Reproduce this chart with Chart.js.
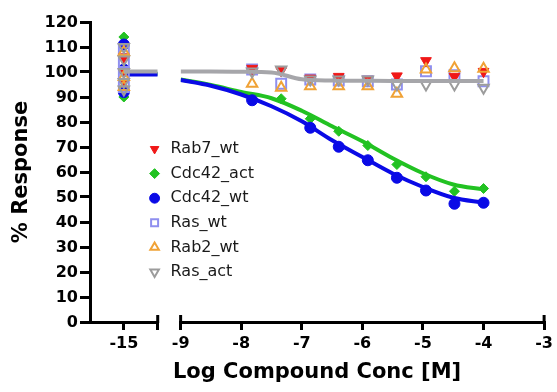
<!DOCTYPE html>
<html>
<head>
<meta charset="utf-8">
<title>Dose response</title>
<script src="https://cdn.jsdelivr.net/npm/chart.js@4.4.1/dist/chart.umd.min.js"></script>
<style>
  html, body { margin: 0; padding: 0; background: #fff; }
  #wrap { width: 557px; height: 392px; }
</style>
</head>
<body>
<div id="wrap"><canvas id="chart"></canvas></div>
<script>
/* global Chart */
"use strict";

// Series and concentrations (log M)
const seriesNames = ["Rab7_wt", "Cdc42_act", "Cdc42_wt", "Ras_wt", "Rab2_wt", "Ras_act"];
const logConc = [-7.82, -7.34, -6.86, -6.39, -5.91, -5.43, -4.95, -4.48, -4.0];
const ctrlConc = -15;
const xTicksLeft = [-15];
const xTicksRight = [-9, -8, -7, -6, -5, -4, -3];
const yTicks = [0, 10, 20, 30, 40, 50, 60, 70, 80, 90, 100, 110, 120];

// % response at each concentration (null = no point seen)
const rab7Wt = [101.4, 100.5, 97.5, 98.2, 97.0, 98.4, 104.5, 98.2, 100.2];
const cdc42Act = [89.0, 89.3, 81.3, 76.3, 70.6, 63.0, 58.1, 52.3, 53.4];
const cdc42Wt = [88.7, null, 77.7, 70.1, 64.7, 57.7, 52.6, 47.3, 47.7];
const rasWt = [101.0, 95.3, 97.0, 96.6, 96.3, 95.0, 100.3, 98.7, 96.3];
const rab2Wt = [95.3, 93.7, 94.3, 94.3, 94.3, 91.3, 101.0, 101.5, 101.3];
const rasAct = [100.2, 101.0, 97.0, 97.0, 97.0, 95.0, 95.0, 95.0, 93.7];

// replicate controls plotted at -15
const rab7WtCtrl = [106, 100, 96];
const cdc42ActCtrl = [114, 100, 90];
const cdc42WtCtrl = [111, 101, 92];
const rasWtCtrl = [109, 104, 99, 94];
const rab2WtCtrl = [108, 98, 94];
const rasActCtrl = [110, 105, 100, 96, 93];

// fitted curves as drawn in the picture
const fitConc = [-9, -8.5, -8, -7.5, -7, -6.5, -6, -5.5, -5, -4.5, -4];
const cdc42ActFit = [97.0, 94.8, 92.0, 89.5, 84.5, 78.3, 72.3, 65.5, 59.5, 55.0, 53.0];
const cdc42WtFit = [96.8, 94.5, 91.0, 86.3, 80.3, 72.7, 66.0, 59.4, 54.0, 49.7, 47.7];
const rasActFit = [100.2, 100.2, 100.1, 99.8, 97.1, 96.6, 96.5, 96.4, 96.4, 96.4, 96.4];
const ctrlFitConc = [-15, -14];
const cdc42ActTop = [99.3, 99.3];
const cdc42WtTop = [99.0, 99.0];
const rasActTop = [100.2, 100.2];

// marker looks, one per series
const looks = {
  Rab7_wt: {color: "#f01818", style: "triangle", rot: 180, r: 6.2, fill: true},
  Cdc42_act: {color: "#22c222", style: "rectRot", rot: 0, r: 5, fill: true},
  Cdc42_wt: {color: "#0a0ae6", style: "circle", rot: 0, r: 5.5, fill: true},
  Ras_wt: {color: "#8f8fef", style: "rect", rot: 0, r: 7, fill: false},
  Rab2_wt: {color: "#f0a236", style: "triangle", rot: 0, r: 6, fill: false},
  Ras_act: {color: "#9c9c9c", style: "triangle", rot: 180, r: 6, fill: false},
};
const lineColors = {Cdc42_act: "#22c222", Cdc42_wt: "#0a0ae6", Ras_act: "#a6a6aa"};

// drawing order, lower is on top
const layer = {
  Ras_act: 2, Rab2_wt: 3, Rab7_wt: 4, Ras_wt: 5, Cdc42_wt: 7, Cdc42_act: 9,
};

const FONT = "DejaVu Sans";
const bold16 = {family: FONT, size: 16, weight: "bold"};
const bold21 = {family: FONT, size: 21, weight: "bold"};

/**
 * Scatter-only dataset for one series.
 * @param {string} name
 * @param {number[]|number} xs
 * @param {Array<number|null>} ys
 * @param {string} xAxisID
 * @param {string} label
 * @return {Object}
 */
function pointSet(name, xs, ys, xAxisID, label) {
  const lk = looks[name];
  return {
    label: label,
    xAxisID: xAxisID,
    yAxisID: "y",
    order: layer[name],
    showLine: false,
    data: ys.map((y, i) => ({x: Array.isArray(xs) ? xs[i] : xs, y: y})),
    pointStyle: lk.style,
    pointRotation: lk.rot,
    pointRadius: lk.r,
    pointHoverRadius: lk.r,
    pointBackgroundColor: lk.fill ? lk.color : "rgba(255,255,255,0)",
    pointBorderColor: lk.color,
    pointBorderWidth: lk.fill ? 1 : 2,
    borderColor: lk.color,
    backgroundColor: lk.fill ? lk.color : "rgba(255,255,255,0)",
  };
}

/**
 * Line-only dataset for a fitted curve.
 * @return {Object}
 */
function fitSet(name, xs, ys, xAxisID) {
  return {
    label: "",
    xAxisID: xAxisID,
    yAxisID: "y",
    order: layer[name] - 1,
    data: xs.map((x, i) => ({x: x, y: ys[i]})),
    borderColor: lineColors[name],
    borderWidth: 4,
    pointRadius: 0,
    fill: false,
    cubicInterpolationMode: "monotone",
  };
}

const datasets = [
  pointSet("Rab7_wt", logConc, rab7Wt, "x", "Rab7_wt"),
  pointSet("Cdc42_act", logConc, cdc42Act, "x", "Cdc42_act"),
  pointSet("Cdc42_wt", logConc, cdc42Wt, "x", "Cdc42_wt"),
  pointSet("Ras_wt", logConc, rasWt, "x", "Ras_wt"),
  pointSet("Rab2_wt", logConc, rab2Wt, "x", "Rab2_wt"),
  pointSet("Ras_act", logConc, rasAct, "x", "Ras_act"),
  pointSet("Rab7_wt", ctrlConc, rab7WtCtrl, "xl", ""),
  pointSet("Cdc42_act", ctrlConc, cdc42ActCtrl, "xl", ""),
  pointSet("Cdc42_wt", ctrlConc, cdc42WtCtrl, "xl", ""),
  pointSet("Ras_wt", ctrlConc, rasWtCtrl, "xl", ""),
  pointSet("Rab2_wt", ctrlConc, rab2WtCtrl, "xl", ""),
  pointSet("Ras_act", ctrlConc, rasActCtrl, "xl", ""),
  fitSet("Cdc42_act", fitConc, cdc42ActFit, "x"),
  fitSet("Cdc42_wt", fitConc, cdc42WtFit, "x"),
  fitSet("Ras_act", fitConc, rasActFit, "x"),
  fitSet("Cdc42_act", ctrlFitConc, cdc42ActTop, "xl"),
  fitSet("Cdc42_wt", ctrlFitConc, cdc42WtTop, "xl"),
  fitSet("Ras_act", ctrlFitConc, rasActTop, "xl"),
];

const axisGrid = {drawOnChartArea: false, color: "#000", lineWidth: 3, tickLength: 8};
const axisBorder = {color: "#000", width: 3};
const xAxisHeight = 35.9;

// moves the legend block into the empty space of the plot
const legendSpot = {
  id: "legendSpot",
  afterLayout(chart) {
    const lg = chart.legend;
    const area = chart.chartArea;
    if (!lg) return;
    lg.left = area.left + 48;
    lg.top = area.top + 110.4;
    lg.right = area.right;
    lg.bottom = area.bottom;
  },
};

// short upward stubs where the broken axis segments end
const axisCaps = {
  id: "axisCaps",
  afterDraw(chart) {
    const ctx = chart.ctx;
    const y0 = chart.scales.x.top;
    const xl = chart.scales.xl;
    const xr = chart.scales.x;
    const spots = [xl.getPixelForValue(xl.max), xr.getPixelForValue(xr.min), xr.getPixelForValue(xr.max)];
    ctx.save();
    ctx.strokeStyle = "#000";
    ctx.lineWidth = 3;
    spots.forEach((px) => {
      ctx.beginPath();
      ctx.moveTo(px, y0 - 7);
      ctx.lineTo(px, y0 + 1);
      ctx.stroke();
    });
    ctx.restore();
  },
};

Chart.defaults.font.family = FONT;

new Chart(document.getElementById("chart"), {
  type: "line",
  data: {datasets: datasets},
  plugins: [legendSpot, axisCaps],
  options: {
    responsive: true,
    maintainAspectRatio: false,
    animation: false,
    events: [],
    layout: {padding: {left: 5, right: 11, top: 22, bottom: 6.9}},
    scales: {
      y: {
        type: "linear",
        position: "left",
        min: 0,
        max: 120,
        afterBuildTicks: (s) => {
          s.ticks = yTicks.map((v) => ({value: v}));
        },
        afterFit: (s) => {
          s.width = 85;
        },
        border: axisBorder,
        grid: Object.assign({}, axisGrid, {tickLength: 10}),
        ticks: {color: "#000", padding: 2, labelOffset: 1, font: bold16},
        title: {
          display: true, text: "% Response", color: "#000", font: bold21,
          padding: {top: 4, bottom: 4},
        },
      },
      xl: {
        type: "linear",
        position: "bottom",
        stack: "bottomAxis",
        stackWeight: 68,
        weight: 1,
        min: -16,
        max: -14,
        afterBuildTicks: (s) => {
          s.ticks = xTicksLeft.concat([s.max]).map((v) => ({value: v}));
        },
        afterFit: (s) => {
          s.height = xAxisHeight;
        },
        border: axisBorder,
        grid: axisGrid,
        ticks: {
          color: "#000", padding: 4, autoSkip: false, maxRotation: 0, font: bold16,
          callback: (v) => (xTicksLeft.includes(v) ? String(v) : ""),
        },
      },
      xg: {
        type: "linear",
        position: "bottom",
        stack: "bottomAxis",
        stackWeight: 23,
        weight: 2,
        display: false,
        min: 0,
        max: 1,
      },
      x: {
        type: "linear",
        position: "bottom",
        stack: "bottomAxis",
        stackWeight: 365,
        weight: 3,
        min: -9,
        max: -3,
        afterBuildTicks: (s) => {
          s.ticks = xTicksRight.map((v) => ({value: v}));
        },
        afterFit: (s) => {
          s.height = xAxisHeight;
        },
        border: axisBorder,
        grid: axisGrid,
        ticks: {
          color: "#000", padding: 4, autoSkip: false, maxRotation: 0, font: bold16,
          callback: (v) => String(v),
        },
      },
    },
    plugins: {
      tooltip: {enabled: false},
      title: {
        display: true,
        position: "bottom",
        fullSize: false,
        text: "Log Compound Conc [M]",
        color: "#000",
        font: bold21,
        padding: {top: 2, bottom: 0},
      },
      legend: {
        position: "chartArea",
        align: "start",
        labels: {
          usePointStyle: true,
          boxHeight: 7,
          padding: 8.6,
          color: "#1a1a1a",
          font: {family: FONT, size: 16},
          filter: (item) => seriesNames.includes(item.text),
          sort: (a, b) => a.datasetIndex - b.datasetIndex,
        },
      },
    },
  },
});
</script>
</body>
</html>
